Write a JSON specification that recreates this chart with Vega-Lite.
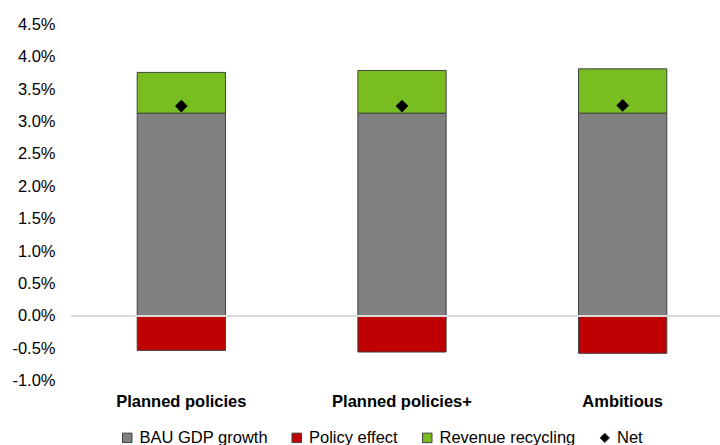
{
  "$schema": "https://vega.github.io/schema/vega-lite/v6.json",
  "autosize": {"type": "none"},
  "padding": {"left": 71, "top": 24.5, "right": 0, "bottom": 65},
  "width": 662,
  "height": 356,
  "background": "white",
  "config": {
    "view": {"stroke": null},
    "font": "Liberation Sans",
    "axis": {"labelColor": "#000000", "labelFont": "Liberation Sans"},
    "axisX": {
      "title": null,
      "labelAngle": 0,
      "labelFontSize": 16.5,
      "labelFontWeight": "bold",
      "labelPadding": 12.5,
      "labelOverlap": false,
      "ticks": false,
      "tickSize": 0,
      "domain": false,
      "grid": false
    },
    "axisY": {
      "title": null,
      "labelFontSize": 16.5,
      "labelPadding": 16,
      "labelOverlap": false,
      "labelFlush": false,
      "tickCount": 20,
      "grid": false,
      "ticks": false,
      "tickSize": 0,
      "domain": false
    },
    "legend": {"labelColor": "#000000", "labelFont": "Liberation Sans"}
  },
  "data": {
    "values": [
      {"scenario": "Planned policies", "component": "BAU GDP growth", "value": 3.13},
      {"scenario": "Planned policies", "component": "Policy effect", "value": -0.535},
      {"scenario": "Planned policies", "component": "Revenue recycling", "value": 0.63},
      {"scenario": "Planned policies", "component": "Net", "value": 3.24},
      {"scenario": "Planned policies+", "component": "BAU GDP growth", "value": 3.13},
      {"scenario": "Planned policies+", "component": "Policy effect", "value": -0.56},
      {"scenario": "Planned policies+", "component": "Revenue recycling", "value": 0.66},
      {"scenario": "Planned policies+", "component": "Net", "value": 3.24},
      {"scenario": "Ambitious", "component": "BAU GDP growth", "value": 3.13},
      {"scenario": "Ambitious", "component": "Policy effect", "value": -0.58},
      {"scenario": "Ambitious", "component": "Revenue recycling", "value": 0.685},
      {"scenario": "Ambitious", "component": "Net", "value": 3.25}
    ]
  },
  "layer": [
    {
      "transform": [{"filter": "datum.component !== 'Net'"}],
      "mark": {"type": "bar", "stroke": "#404040", "strokeWidth": 1},
      "encoding": {
        "x": {
          "field": "scenario",
          "type": "nominal",
          "sort": ["Planned policies", "Planned policies+", "Ambitious"],
          "scale": {"paddingInner": 0.6, "paddingOuter": 0.3}
        },
        "y": {
          "field": "value",
          "type": "quantitative",
          "stack": "zero",
          "scale": {"domain": [-1, 4.5], "nice": false, "zero": false},
          "axis": {
            "values": [-1, -0.5, 0, 0.5, 1, 1.5, 2, 2.5, 3, 3.5, 4, 4.5],
            "tickCount": 20,
            "labelOverlap": false,
            "labelExpr": "replace(format(datum.value, '.1f'), '\u2212', '-') + '%'"
          }
        },
        "order": {"field": "component", "sort": "ascending"},
        "color": {
          "field": "component",
          "type": "nominal",
          "scale": {
            "domain": ["BAU GDP growth", "Policy effect", "Revenue recycling", "Net"],
            "range": ["#808080", "#C00000", "#78BE20", "#000000"]
          },
          "legend": {
            "title": null,
            "orient": "none",
            "legendX": 48,
            "legendY": 405,
            "direction": "horizontal",
            "columns": 4,
            "columnPadding": 20.5,
            "padding": 0,
            "labelFontSize": 16.5,
            "labelOffset": 4,
            "symbolSize": 90,
            "symbolStrokeWidth": 1,
            "symbolStrokeColor": "#404040",
            "symbolOpacity": 1
          }
        }
      }
    },
    {
      "mark": {"type": "rule", "color": "#D9D9D9", "strokeWidth": 1.5},
      "encoding": {"y": {"datum": 0, "type": "quantitative"}}
    },
    {
      "transform": [{"filter": "datum.component === 'Net'"}],
      "mark": {"type": "point", "filled": true, "size": 160, "opacity": 1},
      "encoding": {
        "x": {"field": "scenario", "type": "nominal", "sort": ["Planned policies", "Planned policies+", "Ambitious"]},
        "y": {"field": "value", "type": "quantitative"},
        "color": {"field": "component", "type": "nominal"},
        "shape": {
          "field": "component",
          "type": "nominal",
          "scale": {
            "domain": ["BAU GDP growth", "Policy effect", "Revenue recycling", "Net"],
            "range": ["square", "square", "square", "diamond"]
          }
        }
      }
    }
  ]
}
